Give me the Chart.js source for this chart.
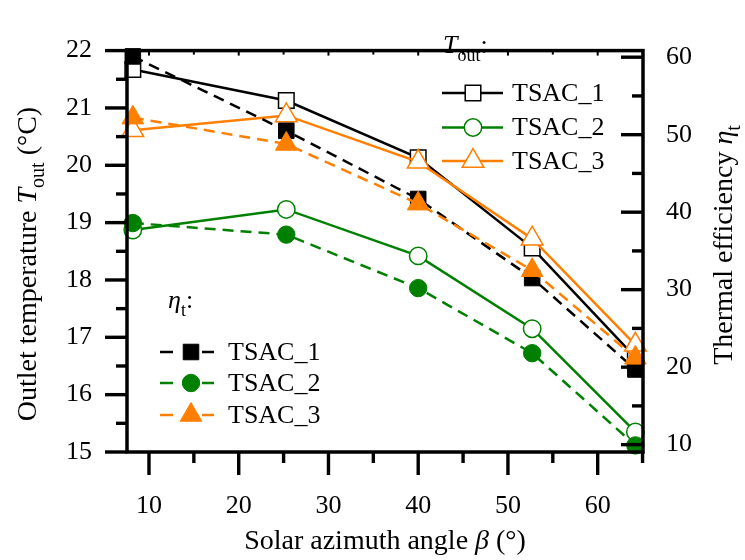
<!DOCTYPE html>
<html>
<head>
<meta charset="utf-8">
<script src="https://cdn.jsdelivr.net/npm/chart.js@4.4.0/dist/chart.umd.min.js"></script>
<style>
body { margin: 0; background: #fff; }
#wrap { width: 745px; height: 560px; position: relative; }
</style>
</head>
<body>
<div id="wrap"><canvas id="tsacChart"></canvas></div>
<script>
//Solar azimuth angle (deg) of the five measurements
const azimuth = [8.2, 25.3, 40.0, 52.7, 64.2];
//Outlet temperature (°C) - left axis
const toutTSAC1 = [21.67, 21.13, 20.13, 18.56, 16.65];
const toutTSAC2 = [18.87, 19.23, 18.42, 17.15, 15.35];
const toutTSAC3 = [20.61, 20.87, 20.06, 18.72, 16.87];
//Thermal efficiency (%) - right axis
const etaTSAC1 = [60.1, 50.5, 41.7, 31.5, 19.7];
const etaTSAC2 = [38.6, 37.1, 30.2, 21.8, 9.9];
const etaTSAC3 = [52.2, 48.8, 41.1, 32.5, 21.2];
const seriesNames = ["TSAC_1", "TSAC_2", "TSAC_3"];
//Tick labels
const xTicks = [10, 20, 30, 40, 50, 60];
const tempTicks = [15, 16, 17, 18, 19, 20, 21, 22];
const etaTicks = [10, 20, 30, 40, 50, 60];

const colors = ["#000000", "#008000", "#ff7f00"];
const markers = ["rect", "circle", "triangle"];
const radii = [11, 8.7, 12.5];
const serif = "'Liberation Serif', 'Times New Roman', serif";

function toPoints(ys) {
    return azimuth.map((x, i) => ({ x: x, y: ys[i] }));
}

//Open markers + solid line for T_out, filled markers + dashed line for eta
function toutSet(i, ys) {
    return {
        label: "Tout " + seriesNames[i], data: toPoints(ys), yAxisID: "y",
        borderColor: colors[i], borderWidth: 2.5,
        pointStyle: markers[i], pointRadius: radii[i], pointHoverRadius: radii[i],
        pointBackgroundColor: "#ffffff", pointBorderColor: colors[i], pointBorderWidth: 1.5,
        clip: false
    };
}
function etaSet(i, ys) {
    return {
        label: "eta " + seriesNames[i], data: toPoints(ys), yAxisID: "y2",
        borderColor: colors[i], borderWidth: 2.5, borderDash: [11, 7],
        pointStyle: markers[i], pointRadius: radii[i], pointHoverRadius: radii[i],
        pointBackgroundColor: colors[i], pointBorderColor: colors[i], pointBorderWidth: 1,
        clip: false
    };
}

//First dataset is drawn on top
const datasets = [
    etaSet(2, etaTSAC3), etaSet(1, etaTSAC2), etaSet(0, etaTSAC1),
    toutSet(2, toutTSAC3), toutSet(1, toutTSAC2), toutSet(0, toutTSAC1)
];

//Draw a run of text pieces (normal / italic / subscript)
function drawRich(ctx, parts, x, y, align, size) {
    const subSize = Math.round(size * 0.7);
    let total = 0;
    parts.forEach(p => {
        ctx.font = (p.italic ? "italic " : "") + (p.sub ? subSize : size) + "px " + serif;
        p.w = ctx.measureText(p.t).width;
        total += p.w;
    });
    let cx = align === "center" ? x - total / 2 : x;
    ctx.textAlign = "left";
    ctx.textBaseline = "alphabetic";
    parts.forEach(p => {
        ctx.font = (p.italic ? "italic " : "") + (p.sub ? subSize : size) + "px " + serif;
        ctx.fillText(p.t, cx, y + (p.sub ? size * 0.3 : 0));
        cx += p.w;
    });
}

function legendMarker(ctx, i, x, y, filled) {
    ctx.fillStyle = filled ? colors[i] : "#ffffff";
    ctx.strokeStyle = colors[i];
    ctx.lineWidth = filled ? 1 : 1.5;
    ctx.setLineDash([]);
    Chart.helpers.drawPoint(ctx, { pointStyle: markers[i], radius: radii[i], borderWidth: ctx.lineWidth, rotation: 0 }, x, y);
}

const framePlugin = {
    id: "framePlugin",
    afterDraw(chart) {
        const ctx = chart.ctx;
        const a = chart.chartArea;
        const sx = chart.scales.x, sy = chart.scales.y, sy2 = chart.scales.y2;
        ctx.save();
        ctx.strokeStyle = "#000";
        ctx.setLineDash([]);

        //ticks
        ctx.lineWidth = 3.4;
        for (let v = 10; v <= 65; v += 5) {
            const px = sx.getPixelForValue(v);
            const major = v % 10 === 0;
            ctx.beginPath();
            ctx.moveTo(px, a.bottom);
            ctx.lineTo(px, a.bottom + (major ? 23 : 11));
            ctx.stroke();
        }
        ctx.lineWidth = 2;
        for (let v = 10; v <= 65; v += 5) {
            const px = sx.getPixelForValue(v);
            ctx.beginPath();
            ctx.moveTo(px, a.top);
            ctx.lineTo(px, a.top + (v % 10 === 0 ? 5 : 4));
            ctx.stroke();
        }
        ctx.lineWidth = 3.4;
        for (let v = 15; v <= 22; v += 0.5) {
            const py = sy.getPixelForValue(v);
            ctx.beginPath();
            ctx.moveTo(a.left, py);
            ctx.lineTo(a.left - (v % 1 === 0 ? 22 : 11), py);
            ctx.stroke();
        }
        for (let v = 10; v <= 60; v += 5) {
            const py = sy2.getPixelForValue(v);
            ctx.beginPath();
            ctx.moveTo(a.right, py);
            ctx.lineTo(a.right - (v % 10 === 0 ? 22 : 11), py);
            ctx.stroke();
        }

        //frame
        ctx.lineWidth = 3.5;
        ctx.strokeRect(a.left, a.top, a.right - a.left, a.bottom - a.top);

        //axis titles
        ctx.fillStyle = "#000";
        drawRich(ctx, [{ t: "Solar azimuth angle " }, { t: "β", italic: true }, { t: " (°)" }],
            (a.left + a.right) / 2, 549, "center", 28);

        ctx.save();
        ctx.translate(36, 264);
        ctx.rotate(-Math.PI / 2);
        drawRich(ctx, [{ t: "Outlet temperature " }, { t: "T", italic: true }, { t: "out", sub: true }, { t: " (°C)" }], 0, 0, "center", 28);
        ctx.restore();

        ctx.save();
        ctx.translate(732, 245);
        ctx.rotate(-Math.PI / 2);
        drawRich(ctx, [{ t: "Thermal efficiency " }, { t: "η", italic: true }, { t: "t", sub: true }], 0, 0, "center", 28);
        ctx.restore();

        //legend for T_out
        drawRich(ctx, [{ t: "T", italic: true }, { t: "out", sub: true }, { t: ":" }], 443, 53, "left", 26);
        const topRows = [93, 127.5, 161];
        topRows.forEach((ry, i) => {
            ctx.strokeStyle = colors[i];
            ctx.lineWidth = 2.5;
            ctx.beginPath();
            ctx.moveTo(442, ry);
            ctx.lineTo(503, ry);
            ctx.stroke();
            legendMarker(ctx, i, 473, ry, false);
            ctx.fillStyle = "#000";
            ctx.font = "26px " + serif;
            ctx.textAlign = "left";
            ctx.textBaseline = "middle";
            ctx.fillText(seriesNames[i], 512, ry + 1);
        });

        //legend for eta
        ctx.fillStyle = "#000";
        drawRich(ctx, [{ t: "η", italic: true }, { t: "t", sub: true }, { t: ":" }], 168, 308, "left", 26);
        const lowRows = [352, 383, 415];
        lowRows.forEach((ry, i) => {
            ctx.strokeStyle = colors[i];
            ctx.lineWidth = 2.5;
            ctx.beginPath();
            ctx.moveTo(160, ry);
            ctx.lineTo(173, ry);
            ctx.moveTo(202, ry);
            ctx.lineTo(214, ry);
            ctx.stroke();
            legendMarker(ctx, i, 191, ry, true);
            ctx.fillStyle = "#000";
            ctx.font = "26px " + serif;
            ctx.textAlign = "left";
            ctx.textBaseline = "middle";
            ctx.fillText(seriesNames[i], 228, ry + 1);
        });
        ctx.restore();
    }
};

const tickFont = { family: serif, size: 26 };

const ctx = document.getElementById("tsacChart").getContext("2d");
new Chart(ctx, {
    type: "line",
    data: { datasets: datasets },
    options: {
        responsive: true,
        maintainAspectRatio: false,
        animation: false,
        layout: { padding: { top: 18, left: 0, right: 0, bottom: 0 } },
        plugins: { legend: { display: false }, tooltip: { enabled: false } },
        scales: {
            x: {
                type: "linear", position: "bottom", min: 7.55, max: 65.05,
                afterBuildTicks: s => { s.ticks = xTicks.map(v => ({ value: v })); },
                afterFit: s => { s.height = 108; },
                grid: { display: false, drawTicks: false }, border: { display: false },
                ticks: { padding: 39, font: tickFont, color: "#000", maxRotation: 0 }
            },
            y: {
                type: "linear", position: "left", min: 15, max: 22,
                afterBuildTicks: s => { s.ticks = tempTicks.map(v => ({ value: v })); },
                afterFit: s => { s.width = 127; },
                grid: { display: false, drawTicks: false }, border: { display: false },
                ticks: { padding: 35, font: tickFont, color: "#000" }
            },
            y2: {
                type: "linear", position: "right", min: 9.05, max: 60.85,
                afterBuildTicks: s => { s.ticks = etaTicks.map(v => ({ value: v })); },
                afterFit: s => { s.width = 102; },
                grid: { display: false, drawTicks: false }, border: { display: false },
                ticks: { padding: 23, font: tickFont, color: "#000" }
            }
        }
    },
    plugins: [framePlugin]
});
</script>
</body>
</html>
